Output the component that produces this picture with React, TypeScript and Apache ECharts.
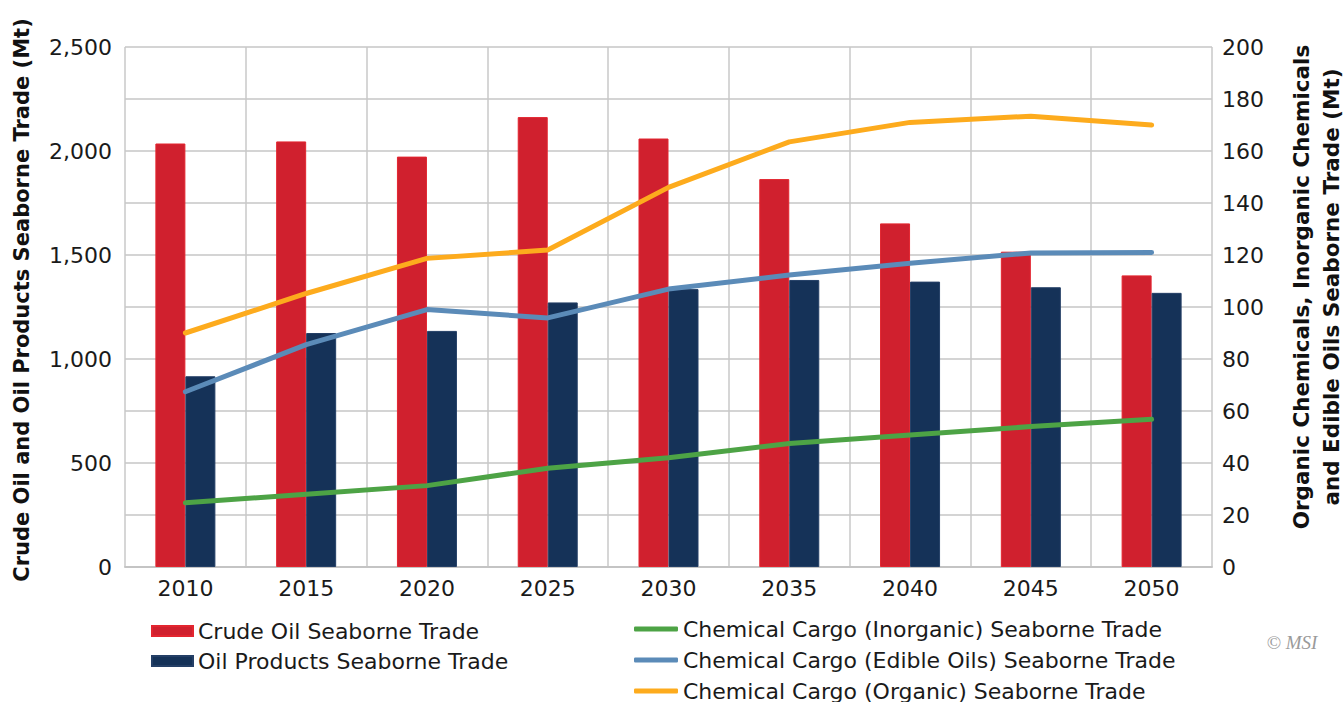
import React, { useEffect, useRef } from "react";
import * as echarts from "echarts";

const years = ["2010", "2015", "2020", "2025", "2030", "2035", "2040", "2045", "2050"];
const crudeOil = [2036, 2046, 1973, 2163, 2060, 1865, 1652, 1516, 1402];
const oilProducts = [917, 1125, 1135, 1272, 1336, 1380, 1372, 1345, 1318];
const inorganic = [24.7, 28.0, 31.3, 38.0, 42.0, 47.5, 50.8, 54.0, 56.8];
const edibleOils = [67.4, 85.5, 99.0, 95.8, 106.9, 112.3, 116.8, 120.8, 121.0];
const organic = [90.0, 105.2, 118.7, 121.9, 146.0, 163.5, 171.0, 173.4, 170.0];

const leftTitle = "Crude Oil and Oil Products Seaborne Trade (Mt)";
const rightTitle = "Organic Chemicals, Inorganic Chemicals\nand Edible Oils Seaborne Trade (Mt)";

const FONT = "DejaVu Sans";

export default function App() {
  const ref = useRef<HTMLDivElement>(null);
  useEffect(() => {
    if (!ref.current) return;
    const chart = echarts.init(ref.current, null, { renderer: "svg" });
    const names = [
      "Crude Oil Seaborne Trade",
      "Oil Products Seaborne Trade",
      "Chemical Cargo (Inorganic) Seaborne Trade",
      "Chemical Cargo (Edible Oils) Seaborne Trade",
      "Chemical Cargo (Organic) Seaborne Trade",
    ];
    const legendText = { fontFamily: FONT, fontSize: 22, lineHeight: 21, color: "#1a1a1a" };
    const lineLegend = (name: string, top: number) => ({
      data: [name],
      orient: "vertical",
      left: 634,
      top,
      icon: "roundRect",
      itemWidth: 44,
      itemHeight: 5,
      padding: 0,
      textStyle: legendText,
    });
    chart.setOption({
      animation: false,
      backgroundColor: "#ffffff",
      textStyle: { fontFamily: FONT },
      grid: { left: 125, right: 132, top: 47, bottom: 135, containLabel: false },
      legend: [
        {
          data: names.slice(0, 2),
          orient: "vertical",
          left: 151,
          top: 620,
          icon: "rect",
          itemWidth: 41,
          itemHeight: 10,
          itemGap: 8,
          padding: 0,
          textStyle: legendText,
        },
        lineLegend(names[2], 618),
        lineLegend(names[3], 649),
        lineLegend(names[4], 680),
      ],
      xAxis: {
        type: "category",
        data: years,
        axisTick: { show: false },
        axisLine: { show: true, lineStyle: { color: "#c4c4c4", width: 2 } },
        axisLabel: { margin: 10, fontSize: 22, color: "#1a1a1a", fontFamily: FONT },
        splitLine: { show: true, lineStyle: { color: "#c8c8c8", width: 1.5 } },
      },
      yAxis: [
        {
          type: "value",
          min: 0,
          max: 2500,
          interval: 500,
          axisLine: { show: false },
          axisTick: { show: false },
          splitLine: { show: false },
          axisLabel: {
            margin: 13,
            fontSize: 22,
            color: "#1a1a1a",
            fontFamily: FONT,
            formatter: (v: number) => v.toLocaleString("en-US"),
          },
        },
        {
          type: "value",
          min: 0,
          max: 200,
          interval: 20,
          position: "right",
          axisLine: { show: false },
          axisTick: { show: false },
          splitLine: { show: true, lineStyle: { color: "#d4d4d4", width: 2 } },
          axisLabel: { margin: 10, fontSize: 22, color: "#1a1a1a", fontFamily: FONT },
        },
      ],
      series: [
        {
          name: names[0],
          type: "bar",
          data: crudeOil,
          yAxisIndex: 0,
          barWidth: 30,
          barGap: "0%",
          itemStyle: { color: "#D0202E", borderColor: "#E3252F", borderWidth: 1 },
        },
        {
          name: names[1],
          type: "bar",
          data: oilProducts,
          yAxisIndex: 0,
          barWidth: 30,
          barGap: "0%",
          itemStyle: { color: "#153258", borderColor: "#243f66", borderWidth: 1 },
        },
        {
          name: names[2],
          type: "line",
          data: inorganic,
          yAxisIndex: 1,
          showSymbol: false,
          symbol: "none",
          lineStyle: { color: "#4DA345", width: 5, cap: "round" },
          itemStyle: { color: "#4DA345" },
          z: 5,
        },
        {
          name: names[3],
          type: "line",
          data: edibleOils,
          yAxisIndex: 1,
          showSymbol: false,
          symbol: "none",
          lineStyle: { color: "#5B8BB8", width: 5, cap: "round" },
          itemStyle: { color: "#5B8BB8" },
          z: 5,
        },
        {
          name: names[4],
          type: "line",
          data: organic,
          yAxisIndex: 1,
          showSymbol: false,
          symbol: "none",
          lineStyle: { color: "#FDAB1D", width: 5, cap: "round" },
          itemStyle: { color: "#FDAB1D" },
          z: 5,
        },
      ],
      graphic: [
        {
          type: "text",
          x: 22,
          y: 300,
          rotation: Math.PI / 2,
          style: {
            text: leftTitle,
            fontFamily: FONT,
            fontWeight: "bold",
            fontSize: 21,
            fill: "#111111",
            textAlign: "center",
            textVerticalAlign: "middle",
          },
        },
        {
          type: "text",
          x: 1316,
          y: 287,
          rotation: Math.PI / 2,
          style: {
            text: rightTitle,
            fontFamily: FONT,
            fontWeight: "bold",
            fontSize: 21.5,
            lineHeight: 30,
            fill: "#111111",
            textAlign: "center",
            textVerticalAlign: "middle",
          },
        },
        {
          type: "text",
          x: 1292,
          y: 642,
          style: {
            text: "© MSI",
            fontFamily: "Liberation Serif",
            fontStyle: "italic",
            fontSize: 19,
            fill: "#9a9a9a",
            textAlign: "center",
            textVerticalAlign: "middle",
          },
        },
      ],
    });
    return () => chart.dispose();
  }, []);
  return (
    <div
      ref={ref}
      style={{ position: "fixed", left: 0, top: 0, width: 1344, height: 702 }}
    />
  );
}
